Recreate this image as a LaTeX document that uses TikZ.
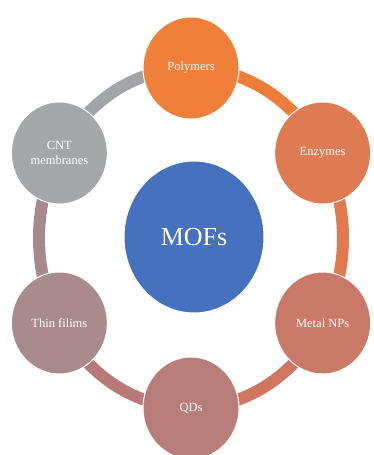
\documentclass[tikz,border=0pt]{standalone}
\usepackage{fontspec}
\setmainfont{Liberation Serif}
\usetikzlibrary{shapes.geometric}

\definecolor{polyfill}{HTML}{F07F3A}
\definecolor{enzfill}{HTML}{DE7B52}
\definecolor{metalfill}{HTML}{C97966}
\definecolor{qdfill}{HTML}{B87D78}
\definecolor{thinfill}{HTML}{A98B8D}
\definecolor{cntfill}{HTML}{A5A6A8}
\definecolor{moffill}{HTML}{4571BF}

\begin{document}
\begin{tikzpicture}[x=1pt, y=1pt,
    petal/.style={ellipse, draw=white, line width=1pt, minimum width=96pt,
        minimum height=102pt, inner sep=0pt, text=white, align=center,
        font=\fontsize{12.5}{15}\selectfont},
    hub/.style={ellipse, draw=white, line width=1pt, minimum width=140pt,
        minimum height=152pt, fill=moffill, text=white,
        font=\fontsize{26}{30}\selectfont},
    band/.style={line width=12pt}]
            \useasboundingbox (0,0) rectangle (373,455);
            \coordinate (c) at (191,217);

            % Ring
            \node(polymers) at ([shift={(90:152pt and 170pt)}]c) {};
            \node(enzymes) at ([shift={(30:152pt and 170pt)}]c) {};
            \node(metal) at ([shift={(-30:152pt and 170pt)}]c) {};
            \node(qds) at ([shift={(-90:152pt and 170pt)}]c) {};
            \node(thin) at ([shift={(210:152pt and 170pt)}]c) {};
            \node(cnt) at ([shift={(150:152pt and 170pt)}]c) {};

            \draw[band, color={rgb,255:red,238;green,125;blue,58}] (polymers.center) arc[start angle=90, end angle=30, x radius=152pt, y radius=170pt];
            \draw[band, color={rgb,255:red,224;green,122;blue,76}] (enzymes.center) arc[start angle=30, end angle=-30, x radius=152pt, y radius=170pt];
            \draw[band, color={rgb,255:red,208;green,118;blue,94}] (metal.center) arc[start angle=-30, end angle=-90, x radius=152pt, y radius=170pt];
            \draw[band, color={rgb,255:red,184;green,122;blue,120}] (qds.center) arc[start angle=-90, end angle=-150, x radius=152pt, y radius=170pt];
            \draw[band, color={rgb,255:red,168;green,138;blue,142}] (thin.center) arc[start angle=210, end angle=150, x radius=152pt, y radius=170pt];
            \draw[band, color={rgb,255:red,162;green,164;blue,168}] (cnt.center) arc[start angle=150, end angle=90, x radius=152pt, y radius=170pt];

            % Circles
            \node(polymers-c) [petal, fill=polyfill] at (polymers) {Polymers};
            \node(enzymes-c) [petal, fill=enzfill] at (enzymes) {Enzymes};
            \node(metal-c) [petal, fill=metalfill] at (metal) {Metal NPs};
            \node(qds-c) [petal, fill=qdfill] at (qds) {QDs};
            \node(thin-c) [petal, fill=thinfill] at (thin) {Thin filims};
            \node(cnt-c) [petal, fill=cntfill] at (cnt) {CNT\\membranes};

            % Centre
            \node(mofs) [hub] at (194,218) {MOFs};

        \end{tikzpicture}
\end{document}
